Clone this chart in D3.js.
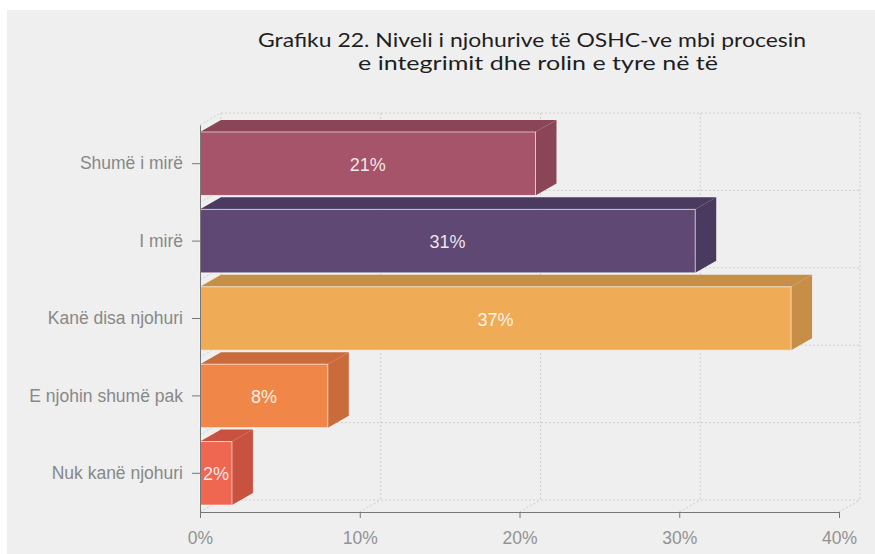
<!DOCTYPE html>
<html><head><meta charset="utf-8">
<script src="https://cdn.jsdelivr.net/npm/d3@7"></script>
<style>body{margin:0;background:#fff}svg{display:block}</style>
</head><body>
<svg id="c" width="875" height="554"></svg>
<script>
const categories = ["Shumë i mirë", "I mirë", "Kanë disa njohuri", "E njohin shumë pak", "Nuk kanë njohuri"];
const values = [21, 31, 37, 8, 2];
const frontColors = ["#a55469", "#5f4873", "#efab55", "#f08648", "#ef6651"];
const darkColors = ["#8a4557", "#4b3a5f", "#c68e47", "#c96b3a", "#c9513f"];
const xTicks = [0, 10, 20, 30, 40];
const titleLines = ["Grafiku 22. Niveli i njohurive të OSHC-ve mbi procesin", "e integrimit dhe rolin e tyre në të"];

const svg = d3.select("#c");
const W = 875, H = 554;
const dx = 21, dy = -12;
const x = d3.scaleLinear().domain([0, 40]).range([200, 839]);
const y = d3.scaleBand().domain(categories).range([125, 512]).paddingInner(0.18).paddingOuter(0.09);

svg.append("rect").attr("x", 7).attr("y", 10).attr("width", W - 7).attr("height", H - 10).attr("fill", "#efefef");

const tl = [{t: titleLines[0], y: 47, len: 548, cx: 532}, {t: titleLines[1], y: 70, len: 360, cx: 538}];
svg.selectAll("text.title").data(tl).join("text").attr("class", "title")
  .attr("x", d => d.cx).attr("y", d => d.y).attr("text-anchor", "middle")
  .attr("font-family", "Lato, sans-serif").attr("font-size", 19).attr("font-weight", 400).attr("fill", "#1e1e1e")
  .attr("textLength", d => d.len).attr("lengthAdjust", "spacingAndGlyphs")
  .text(d => d.t);

const grid = svg.append("g").attr("stroke", "#cfcfcf").attr("stroke-width", 1).attr("stroke-dasharray", "2,2").attr("fill", "none");
const yTop = y.range()[0], yBot = y.range()[1];
xTicks.forEach(t => {
  grid.append("line").attr("x1", x(t) + dx).attr("x2", x(t) + dx).attr("y1", yTop + dy).attr("y2", yBot + dy);
  grid.append("line").attr("x1", x(t)).attr("x2", x(t) + dx).attr("y1", yBot).attr("y2", yBot + dy);
});
const bounds = [yTop, ...categories.slice(1).map(c => y(c) - y.step() * y.paddingInner() / 2), yBot];
bounds.forEach(b => {
  grid.append("line").attr("x1", x(0) + dx).attr("x2", x(40) + dx).attr("y1", b + dy).attr("y2", b + dy);
  grid.append("line").attr("x1", x(0)).attr("x2", x(0) + dx).attr("y1", b).attr("y2", b + dy);
});

const bars = svg.append("g");
categories.forEach((c, i) => {
  const x0 = x(0), x1 = x(values[i]), y0 = y(c), y1 = y(c) + y.bandwidth();
  const g = bars.append("g");
  g.append("polygon").attr("points", [[x0, y0], [x0 + dx, y0 + dy], [x1 + dx, y0 + dy], [x1, y0]].join(" ")).attr("fill", darkColors[i]);
  g.append("polygon").attr("points", [[x1, y0], [x1 + dx, y0 + dy], [x1 + dx, y1 + dy], [x1, y1]].join(" ")).attr("fill", darkColors[i]);
  g.append("rect").attr("x", x0).attr("y", y0).attr("width", x1 - x0).attr("height", y1 - y0).attr("fill", frontColors[i])
    .attr("stroke", "#fff").attr("stroke-opacity", 0.6).attr("stroke-width", 1);
  g.append("text").attr("x", (x0 + x1) / 2).attr("y", (y0 + y1) / 2 + 7).attr("text-anchor", "middle")
    .attr("font-family", "'Liberation Sans', Arial, sans-serif").attr("font-size", 18).attr("fill", "#fff").attr("fill-opacity", 0.88)
    .text(values[i] + "%");
});

const yAxis = svg.append("g").attr("transform", `translate(${x(0)},0)`)
  .call(d3.axisLeft(y).tickSize(8).tickPadding(9).tickSizeOuter(0));
yAxis.select(".domain").attr("stroke", "#777");
yAxis.selectAll(".tick line").attr("stroke", "#777");
yAxis.selectAll(".tick text").attr("font-family", "'Liberation Sans', Arial, sans-serif").attr("font-size", 17.5).attr("fill", "#888");

const xAxis = svg.append("g").attr("transform", `translate(0,${yBot})`)
  .call(d3.axisBottom(x).tickValues(xTicks).tickFormat(d => d + "%").tickSize(6).tickPadding(14).tickSizeOuter(0));
xAxis.select(".domain").attr("stroke", "#777");
xAxis.selectAll(".tick line").attr("stroke", "#777");
xAxis.selectAll(".tick text").attr("font-family", "'Liberation Sans', Arial, sans-serif").attr("font-size", 17.5).attr("fill", "#929292");
</script>
</body></html>
